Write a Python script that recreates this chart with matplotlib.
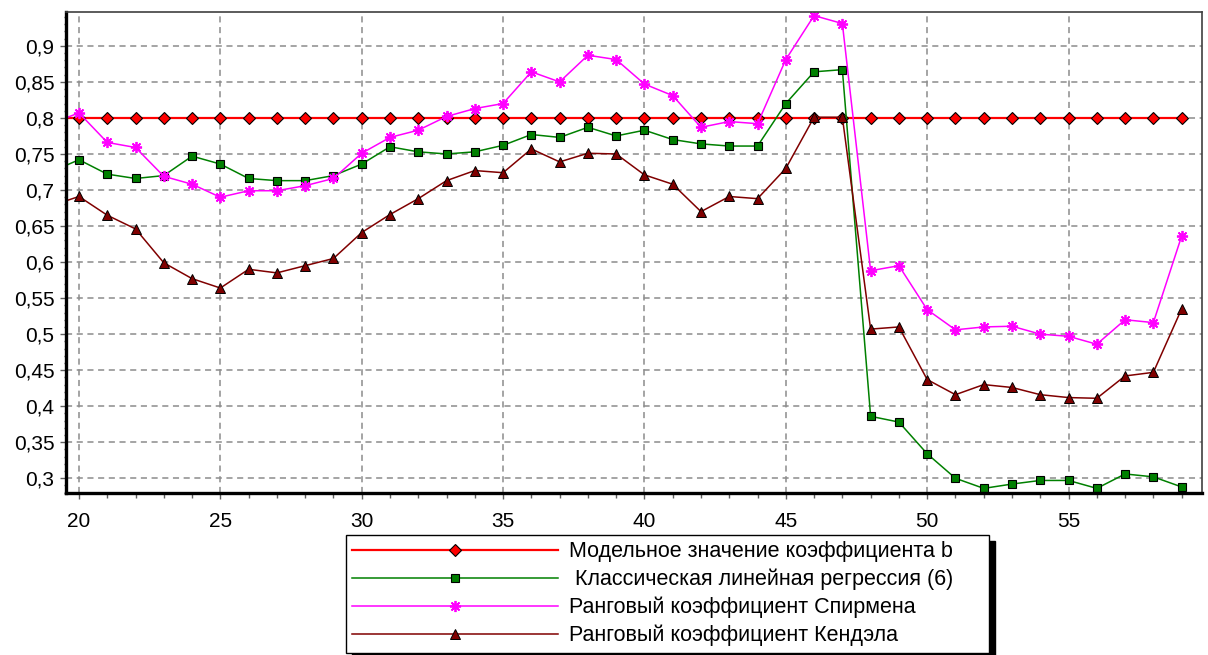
import numpy as np
import matplotlib
matplotlib.use("Agg")
import matplotlib.pyplot as plt
from matplotlib.ticker import MultipleLocator, FuncFormatter

plt.rcParams["font.family"] = ["Liberation Sans", "DejaVu Sans"]

# sample size n (x = 19 only continues the lines to the left edge)
n = np.arange(19, 60)

b_model = [0.80] * len(n)

b_ols = [0.725,
         0.742, 0.722, 0.716, 0.720, 0.747, 0.736, 0.716, 0.713, 0.713, 0.720,
         0.736, 0.760, 0.753, 0.750, 0.753, 0.762, 0.777, 0.773, 0.787, 0.775,
         0.783, 0.770, 0.764, 0.761, 0.761, 0.820, 0.864, 0.867, 0.386, 0.378,
         0.334, 0.300, 0.286, 0.292, 0.297, 0.297, 0.286, 0.306, 0.302, 0.288]

b_spearman = [0.792,
              0.807, 0.766, 0.759, 0.719, 0.708, 0.690, 0.699, 0.699, 0.706, 0.716,
              0.751, 0.773, 0.783, 0.802, 0.813, 0.820, 0.864, 0.850, 0.887, 0.881,
              0.847, 0.831, 0.787, 0.795, 0.792, 0.881, 0.942, 0.931, 0.588, 0.595,
              0.534, 0.506, 0.510, 0.511, 0.500, 0.497, 0.486, 0.520, 0.516, 0.636]

b_kendall = [0.678,
             0.691, 0.665, 0.646, 0.599, 0.577, 0.564, 0.590, 0.585, 0.595, 0.605,
             0.641, 0.666, 0.688, 0.713, 0.727, 0.724, 0.757, 0.739, 0.751, 0.750,
             0.721, 0.708, 0.670, 0.691, 0.688, 0.730, 0.801, 0.801, 0.507, 0.510,
             0.437, 0.416, 0.430, 0.426, 0.416, 0.412, 0.411, 0.442, 0.447, 0.535]

labels = ["Модельное значение коэффициента b",
          " Классическая линейная регрессия (6)",
          "Ранговый коэффициент Спирмена",
          "Ранговый коэффициент Кендэла"]

W, H = 1208, 655
fig = plt.figure(figsize=(W / 100, H / 100), dpi=100)
ax = fig.add_axes([65.7 / W, 1 - 492.7 / H, (1201.7 - 65.7) / W, (492.7 - 12) / H])

ax.plot(n, b_model, color="#ff0000", lw=1.6, marker="D", ms=6.5,
        mfc="#ff0000", mec="black", mew=0.8, label=labels[0])
ax.plot(n, b_ols, color="#008000", lw=1.1, marker="s", ms=6,
        mfc="#008000", mec="black", mew=0.8, label=labels[1])
ax.plot(n, b_spearman, color="#ff00ff", lw=1.1, marker=(8, 2, 0), ms=8,
        mec="#ff00ff", mew=1.3, label=labels[2])
ax.plot(n, b_kendall, color="#800000", lw=1.1, marker="^", ms=6.5,
        mfc="#800000", mec="black", mew=0.7, label=labels[3])

ax.set_xlim(19.53, 59.71)
ax.set_ylim(0.280, 0.947)

ax.xaxis.set_major_locator(MultipleLocator(5))
ax.xaxis.set_minor_locator(MultipleLocator(1))
ax.yaxis.set_major_locator(MultipleLocator(0.05))
ax.yaxis.set_minor_locator(MultipleLocator(0.01))
ax.yaxis.set_major_formatter(FuncFormatter(lambda v, p: f"{round(v, 2):g}".replace(".", ",")))

ax.tick_params(axis="both", which="major", labelsize=15, color="#606060", width=1.0)
ax.tick_params(axis="x", which="major", length=4.5, pad=9.5)
ax.tick_params(axis="x", which="minor", length=3.5, color="#606060", width=1.0)
ax.tick_params(axis="y", which="major", length=4.5, pad=3.5)
ax.tick_params(axis="y", which="minor", length=1.8, color="#606060", width=1.0)

ax.grid(True, which="major", color="#8c8c8c", lw=1.1, linestyle=(0, (4, 3)))
ax.set_axisbelow(True)

for side in ("left", "bottom"):
    ax.spines[side].set_color("black")
    ax.spines[side].set_linewidth(2.4)
for side in ("top", "right"):
    ax.spines[side].set_color("#404040")
    ax.spines[side].set_linewidth(1.2)

leg = ax.legend(loc="upper left", mode="expand",
                bbox_to_anchor=(346 / W, 1 - 650 / H, (989 - 346) / W, (650 - 535) / H),
                bbox_transform=fig.transFigure, borderaxespad=0,
                fontsize=15.5, numpoints=1, handlelength=9.55, handletextpad=0.5,
                labelspacing=0.3, borderpad=0.3, fancybox=False, framealpha=1,
                edgecolor="black",
                shadow={"color": "black", "alpha": 1, "ox": 4.5, "oy": -4.5})
leg.get_frame().set_linewidth(1.0)

fig.savefig("out.png", dpi=100)
